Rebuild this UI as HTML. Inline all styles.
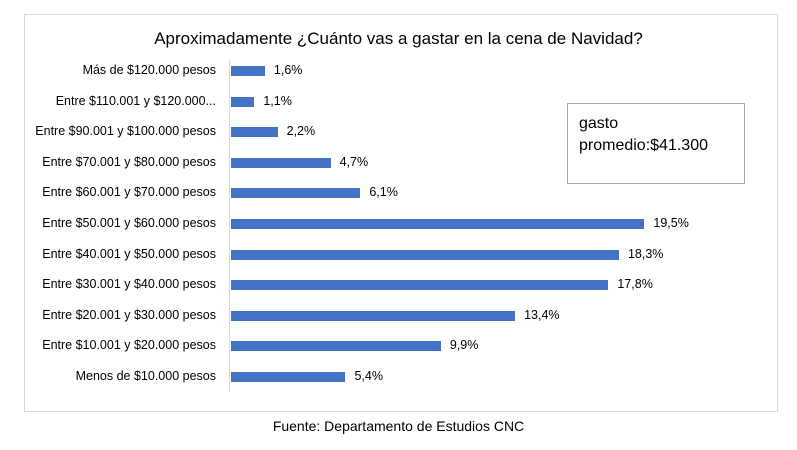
<!DOCTYPE html><html><head><style>
body{margin:0;width:797px;height:450px;background:#fff;font-family:"Liberation Sans",sans-serif;position:relative;overflow:hidden}
.frame{position:absolute;left:24px;top:14px;width:754px;height:398px;border:1px solid #d9d9d9;box-sizing:border-box}
.t{position:absolute;white-space:nowrap;color:#000}
.lab{position:absolute;right:581px;font-size:12.5px;white-space:nowrap;color:#000}
.bar{position:absolute;left:231px;height:10px;background:#4472c4}
.v{position:absolute;font-size:12.5px;color:#000}
</style></head><body>
<div class="frame"></div>
<div class="t" style="left:0;width:797px;text-align:center;top:29px;font-size:17px">Aproximadamente ¿Cuánto vas a gastar en la cena de Navidad?</div>
<div style="position:absolute;left:229px;top:60px;width:1px;height:332px;background:#d9d9d9"></div>
<div id="c"></div>
<div style="position:absolute;left:567px;top:103px;width:178px;height:81px;border:1px solid #a6a6a6;box-sizing:border-box;padding:9px 0 0 11px;font-size:16px;line-height:22px">gasto<br>promedio:$41.300</div>
<div class="t" style="left:0;width:797px;text-align:center;top:418px;font-size:14px">Fuente: Departamento de Estudios CNC</div>
<script>
var d=[["Más de $120.000 pesos",1.6],["Entre $110.001 y $120.000...",1.1],["Entre $90.001 y $100.000 pesos",2.2],["Entre $70.001 y $80.000 pesos",4.7],["Entre $60.001 y $70.000 pesos",6.1],["Entre $50.001 y $60.000 pesos",19.5],["Entre $40.001 y $50.000 pesos",18.3],["Entre $30.001 y $40.000 pesos",17.8],["Entre $20.001 y $30.000 pesos",13.4],["Entre $10.001 y $20.000 pesos",9.9],["Menos de $10.000 pesos",5.4]];
var h="";d.forEach(function(r,i){var y=71+i*30.6;var w=r[1]*21.2;
h+='<div class="lab" style="top:'+(y-8)+'px">'+r[0]+'</div><div class="bar" style="top:'+(y-5)+'px;width:'+w+'px"></div><div class="v" style="top:'+(y-8)+'px;left:'+(231+w+9)+'px">'+String(r[1]).replace(".",",")+'%</div>';});
document.getElementById("c").innerHTML=h;
</script>
</body></html>
